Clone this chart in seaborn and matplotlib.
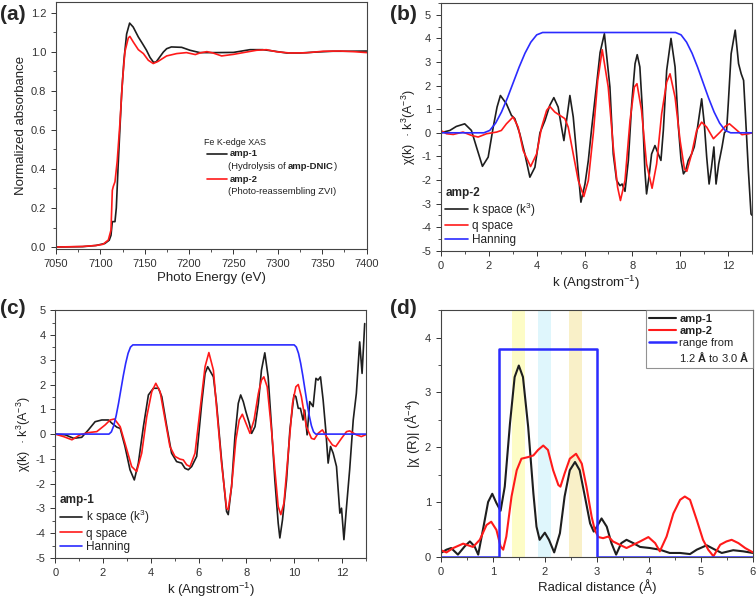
import numpy as np
import pandas as pd
import matplotlib
matplotlib.use("Agg")
import matplotlib.pyplot as plt
from matplotlib.ticker import MultipleLocator
from matplotlib.lines import Line2D
import seaborn as sns

# ---------------- data ----------------
# (a) Fe K-edge XANES
ea_black = [7050, 7080, 7095, 7105, 7110, 7112, 7113.5, 7116.5, 7118, 7120, 7122, 7124, 7126.6, 7129.6, 7133,
            7137, 7142.8, 7147.6, 7152, 7156, 7160, 7163, 7167, 7171, 7174.7, 7180, 7191.6, 7201, 7212, 7230,
            7250, 7268.6, 7283, 7295, 7310, 7325, 7343.6, 7362, 7381, 7400]
va_black = [0.0, 0.002, 0.008, 0.018, 0.035, 0.06, 0.13, 0.13, 0.2, 0.41, 0.6, 0.785, 0.956, 1.09, 1.146,
            1.126, 1.075, 1.04, 1.007, 0.97, 0.945, 0.948, 0.973, 0.998, 1.015, 1.024, 1.022, 1.007, 0.995, 0.995,
            0.996, 1.01, 1.01, 1.003, 0.993, 0.993, 0.998, 1.002, 1.002, 1.003]
ea_red = [7050, 7080, 7095, 7103, 7109, 7112, 7113.5, 7114.6, 7116.5, 7119, 7122, 7125, 7127.7, 7131.5, 7133.3,
          7137, 7142.8, 7148.5, 7154, 7159.6, 7165, 7174.7, 7186, 7197, 7207, 7212, 7220, 7227, 7236.6, 7250,
          7261, 7276, 7287, 7299, 7313.6, 7332, 7351, 7370, 7385, 7400]
va_red = [0.0, 0.003, 0.008, 0.014, 0.036, 0.087, 0.29, 0.31, 0.334, 0.44, 0.63, 0.853, 1.0, 1.07, 1.078,
          1.05, 1.01, 0.99, 0.956, 0.939, 0.95, 0.978, 0.99, 0.995, 0.985, 0.993, 1.0, 0.993, 0.978, 0.986,
          0.995, 1.007, 1.01, 0.999, 0.993, 0.994, 1.002, 1.003, 1.0, 0.995]

# (b) amp-2 chi(k)
kb_black = [0, 0.38, 0.65, 1.0, 1.28, 1.49, 1.74, 1.98, 2.19, 2.35, 2.49, 2.74, 2.95, 3.09, 3.30, 3.51, 3.72,
            3.93, 4.14, 4.35, 4.55, 4.72, 4.9, 5.04, 5.14, 5.25, 5.39, 5.53, 5.67, 5.85, 6.02, 6.16, 6.3, 6.5,
            6.65, 6.83, 7.06, 7.2, 7.34, 7.48, 7.57, 7.69, 7.83, 7.97, 8.11, 8.2, 8.31, 8.41, 8.52, 8.59, 8.69,
            8.8, 8.94, 9.08, 9.19, 9.29, 9.43, 9.61, 9.78, 9.92, 10.03, 10.13, 10.22, 10.33, 10.47, 10.58, 10.72,
            10.89, 11.0, 11.1, 11.2, 11.3, 11.4, 11.49, 11.6, 11.74, 11.84, 11.93, 12.0, 12.12, 12.29, 12.43,
            12.54, 12.64, 12.73, 12.84, 12.95, 13.0]
vb_black = [0, 0.1, 0.27, 0.38, 0.1, -0.6, -1.42, -1.03, 0.24, 1.09, 1.58, 1.23, 0.74, 0.6, -0.04, -0.9, -1.88,
            -1.46, 0.0, 0.52, 1.16, 1.49, 1.09, 0.24, -0.33, 0.52, 1.58, 0.67, -0.9, -2.94, -2.17, -1.17, 0.2, 2.0,
            3.4, 4.2, 1.94, -0.9, -2.02, -2.24, -2.17, -2.48, -1.17, 1.23, 2.93, 3.31, 2.79, 1.09, -1.6, -2.59, -1.88,
            -0.9, -0.54, -0.9, -1.17, 0.1, 2.65, 4.0, 2.79, 0.24, -1.17, -1.74, -1.6, -1.17, -0.9, -0.6, 0.24,
            1.44, 0.38, -1.03, -2.17, -1.46, -0.6, -2.17, -1.32, -0.6, 0.0, 0.1, 1.23, 3.35, 4.35, 2.93,
            2.5, 2.22, 0.52, -1.6, -3.44, -3.5]
kb_red = [0, 0.24, 0.52, 0.93, 1.28, 1.56, 1.91, 2.33, 2.53, 2.74, 3.02, 3.23, 3.44, 3.75, 4.0, 4.21, 4.42, 4.55,
          4.76, 4.97, 5.18, 5.32, 5.53, 5.74, 5.97, 6.16, 6.37, 6.55, 6.74, 6.99, 7.2, 7.38, 7.5, 7.69, 7.9, 8.08,
          8.19, 8.38, 8.59, 8.82, 9.01, 9.22, 9.43, 9.57, 9.78, 9.99, 10.17, 10.27, 10.47, 10.68, 10.89, 11.1,
          11.38, 11.66, 11.87, 12.05, 12.29, 12.57, 12.84, 13.0]
vb_red = [0.1, -0.04, -0.07, 0.03, -0.11, -0.18, -0.04, 0.03, 0.1, 0.38, 0.67, 0.24, -0.75, -1.43, -0.9, 0.24, 0.95,
          1.12, 0.88, 0.74, 0.6, 0.24, -0.9, -2.02, -2.7, -2.02, 0.0, 2.2, 3.52, 1.94, -0.6, -2.3, -2.87, -2.02,
          0.52, 1.94, 2.08, 0.95, -1.32, -2.35, -1.32, 0.81, 2.15, 2.5, 1.51, -0.33, -1.53, -1.63, -0.9, 0.1,
          0.45, 0.24, -0.25, 0.03, 0.27, 0.38, 0.17, -0.08, -0.04, 0.0]
kb_han = [0, 1.8, 2.045, 2.29, 2.535, 2.78, 3.025, 3.27, 3.515, 3.76, 4.005, 4.25, 9.8, 10.03, 10.26, 10.49,
          10.72, 10.95, 11.18, 11.41, 11.64, 11.87, 12.1, 13.0]
vb_han = [0, 0, 0.10, 0.41, 0.88, 1.47, 2.125, 2.78, 3.37, 3.84, 4.15, 4.25, 4.25, 4.15, 3.84, 3.37, 2.78, 2.125,
          1.47, 0.88, 0.41, 0.10, 0, 0]

# (c) amp-1 chi(k)
kc_black = [0, 0.42, 0.77, 1.11, 1.39, 1.67, 1.95, 2.23, 2.37, 2.58, 2.72, 2.92, 3.13, 3.31, 3.48, 3.69, 3.9,
            4.11, 4.32, 4.46, 4.67, 4.87, 5.08, 5.29, 5.43, 5.57, 5.71, 5.92, 6.13, 6.27, 6.38, 6.62, 6.75, 6.96,
            7.17, 7.24, 7.38, 7.52, 7.66, 7.76, 7.87, 7.98, 8.12, 8.22, 8.36, 8.5, 8.63, 8.77, 8.91, 9.05, 9.19,
            9.33, 9.4, 9.51, 9.68, 9.82, 9.99, 10.07, 10.17, 10.26, 10.37, 10.44, 10.54, 10.65, 10.79, 10.91,
            11.0, 11.1, 11.21, 11.32, 11.42, 11.52, 11.63, 11.77, 11.91, 11.98, 12.08, 12.19, 12.32, 12.47, 12.6,
            12.74, 12.84, 12.95]
vc_black = [0, -0.03, -0.17, -0.13, 0.17, 0.5, 0.57, 0.57, 0.44, 0.28, 0.23, -0.5, -1.44, -1.85, -1.17, 0.3, 1.58,
            1.85, 1.85, 1.51, 0.3, -0.77, -1.11, -1.17, -1.38, -1.44, -1.31, -0.9, 1.24, 2.45, 2.72, 2.31, 1.24,
            -1.04, -3.12, -3.25, -2.11, -0.1, 1.24, 1.58, 1.31, 0.9, 0.44, 0.03, 0.3, 1.24, 2.58, 3.28, 2.31, 0.3,
            -1.85, -3.59, -4.19, -3.46, -1.85, 0.17, 1.58, 1.51, 1.04, 1.04, 0.57, 0.97, -0.03, 1.31, 1.11, 2.25,
            2.18, 2.31, 1.38, 0.17, -1.17, -0.5, -0.77, -1.31, -3.19, -2.99, -4.26, -2.92, -1.44, 0.57, 1.64,
            3.72, 2.45, 4.46]
kc_red = [0, 0.35, 0.7, 1.04, 1.39, 1.74, 2.09, 2.3, 2.48, 2.72, 2.92, 3.2, 3.41, 3.62, 3.83, 4.04, 4.21, 4.39,
          4.6, 4.8, 5.01, 5.22, 5.36, 5.5, 5.64, 5.85, 6.06, 6.27, 6.43, 6.62, 6.75, 6.96, 7.17, 7.24, 7.38, 7.56,
          7.7, 7.83, 7.98, 8.15, 8.32, 8.5, 8.63, 8.73, 8.87, 9.05, 9.19, 9.33, 9.44, 9.57, 9.75, 9.93, 10.07,
          10.17, 10.3, 10.51, 10.72, 10.84, 11.0, 11.18, 11.35, 11.6, 11.74, 11.98, 12.19, 12.32, 12.6, 12.81, 12.98]
vc_red = [0, -0.1, -0.23, -0.03, 0.06, 0.1, 0.37, 0.57, 0.61, 0.3, -0.37, -1.31, -1.51, -0.77, 0.7, 1.71, 2.05,
          1.71, 0.57, -0.5, -0.9, -1.01, -1.04, -1.24, -1.31, -0.77, 0.97, 2.72, 3.29, 2.58, 1.1, -1.17, -2.99,
          -3.05, -2.11, -0.23, 0.57, 0.8, 0.44, 0.03, 0.57, 1.64, 2.18, 2.31, 1.91, 0.17, -1.44, -2.92, -3.25,
          -2.79, -0.77, 1.24, 1.91, 2.0, 1.51, 0.3, -0.17, -0.21, 0.03, 0.17, -0.1, -0.44, -0.5, -0.17, 0.1, 0.13,
          -0.03, -0.1, -0.03]
kc_han = [0, 2.25, 2.35, 2.45, 2.55, 2.65, 2.75, 2.85, 2.95, 3.05, 3.15, 3.25, 10.0, 10.09, 10.18, 10.27, 10.36,
          10.45, 10.54, 10.63, 10.72, 10.81, 10.9, 13.0]
vc_han = [0, 0, 0.09, 0.34, 0.74, 1.24, 1.8, 2.36, 2.86, 3.26, 3.51, 3.6, 3.6, 3.51, 3.26, 2.86, 2.36, 1.8, 1.24,
          0.74, 0.34, 0.09, 0, 0]

# (d) |chi(R)|
rd_black = [0, 0.11, 0.2, 0.33, 0.46, 0.56, 0.65, 0.72, 0.81, 0.91, 0.99, 1.07, 1.15, 1.23, 1.33, 1.42, 1.5, 1.58,
            1.68, 1.78, 1.84, 1.9, 2.0, 2.08, 2.18, 2.29, 2.38, 2.48, 2.58, 2.67, 2.77, 2.87, 2.94, 3.0, 3.09,
            3.19, 3.28, 3.37, 3.47, 3.57, 3.7, 3.83, 4.02, 4.21, 4.4, 4.6, 4.79, 4.92, 5.11, 5.27, 5.4, 5.62,
            5.81, 6.0]
vd_black = [0.07, 0.13, 0.16, 0.04, 0.19, 0.28, 0.19, 0.04, 0.49, 1.0, 1.15, 0.98, 0.84, 1.28, 2.43, 3.28, 3.49,
            3.28, 2.37, 1.16, 0.55, 0.31, 0.44, 0.31, 0.08, 0.43, 1.1, 1.58, 1.73, 1.58, 1.1, 0.61, 0.46, 0.55,
            0.7, 0.55, 0.25, 0.04, 0.25, 0.31, 0.25, 0.18, 0.16, 0.13, 0.07, 0.07, 0.05, 0.13, 0.21, 0.13, 0.07,
            0.12, 0.1, 0.07]
rd_red = [0, 0.11, 0.24, 0.43, 0.62, 0.75, 0.88, 0.97, 1.07, 1.15, 1.2, 1.26, 1.36, 1.46, 1.55, 1.68, 1.78, 1.87,
          1.97, 2.06, 2.16, 2.26, 2.3, 2.38, 2.48, 2.6, 2.71, 2.8, 2.9, 2.96, 3.03, 3.12, 3.22, 3.31, 3.44, 3.57,
          3.7, 3.83, 3.99, 4.12, 4.21, 4.34, 4.47, 4.6, 4.69, 4.79, 4.92, 5.04, 5.14, 5.24, 5.37, 5.49, 5.59,
          5.72, 5.85, 6.0]
vd_red = [0.12, 0.08, 0.16, 0.24, 0.18, 0.31, 0.58, 0.64, 0.49, 0.19, 0.13, 0.37, 1.1, 1.58, 1.79, 1.82, 1.85,
          1.95, 2.03, 1.95, 1.58, 1.31, 1.28, 1.52, 1.79, 1.88, 1.7, 1.28, 0.73, 0.49, 0.36, 0.34, 0.37, 0.28,
          0.22, 0.16, 0.22, 0.28, 0.36, 0.25, 0.1, 0.37, 0.79, 1.04, 1.1, 1.04, 0.67, 0.31, 0.13, 0.01, 0.22,
          0.28, 0.31, 0.25, 0.16, 0.08]
rd_win = [0, 1.12, 1.12, 3.0, 3.0, 6.0]
vd_win = [0, 0, 3.8, 3.8, 0, 0]
band_lo = [1.36, 1.86, 2.47]
band_hi = [1.62, 2.12, 2.72]
band_colors = ["#fdfcc6", "#dff6fc", "#f9f0c8"]

# ---------------- style ----------------
sns.set_style("ticks")
plt.rcParams["font.family"] = ["Liberation Sans", "DejaVu Sans"]
plt.rcParams["mathtext.fontset"] = "custom"
plt.rcParams["mathtext.rm"] = "Liberation Sans"
plt.rcParams["mathtext.bf"] = "Liberation Sans:bold"
plt.rcParams["axes.unicode_minus"] = False

BLACK = "#1e1e1e"
RED = "#ff1a1a"
BLUE = "#2b2bff"

fig = plt.figure(figsize=(7.56, 6.0), dpi=100)
ax_a = fig.add_axes([0.074, 0.585, 0.411, 0.412])
ax_b = fig.add_axes([0.583, 0.582, 0.412, 0.413])
ax_c = fig.add_axes([0.073, 0.070, 0.411, 0.413])
ax_d = fig.add_axes([0.583, 0.072, 0.413, 0.411])


def style_axis(ax):
    for s in ax.spines.values():
        s.set_linewidth(0.8)
        s.set_color("#444444")
    ax.tick_params(which="major", direction="out", length=3.5, width=0.7, labelsize=8,
                   colors="#333333", labelcolor="#333333")
    ax.tick_params(which="minor", direction="out", length=2, width=0.6, colors="#333333")


def line(ax, x, y, color, lw, label=None):
    sns.lineplot(x=x, y=y, ax=ax, color=color, lw=lw, estimator=None, sort=False,
                 label=label, legend=False)


# ---- (a) ----
line(ax_a, ea_black, va_black, BLACK, 1.2)
line(ax_a, ea_red, va_red, RED, 1.2)
ax_a.set_xlim(7050, 7400)
ax_a.set_ylim(-0.01, 1.255)
ax_a.xaxis.set_major_locator(MultipleLocator(50))
ax_a.xaxis.set_minor_locator(MultipleLocator(25))
ax_a.yaxis.set_major_locator(MultipleLocator(0.2))
ax_a.yaxis.set_minor_locator(MultipleLocator(0.1))
ax_a.yaxis.set_major_formatter(matplotlib.ticker.FormatStrFormatter("%.1f"))
ax_a.set_xlabel("Photo Energy (eV)", fontsize=9.5, color="#222222", labelpad=2)
ax_a.set_ylabel("Normalized absorbance", fontsize=9.5, color="#222222", labelpad=3)
style_axis(ax_a)

# manual legend for (a)
ta = ax_a.transAxes
FS_A = 6.8
ax_a.text(0.478, 0.43, "Fe K-edge XAS", transform=ta, fontsize=6.4, va="center", color="#222222")
ax_a.plot([0.486, 0.55], [0.385, 0.385], transform=ta, color=BLACK, lw=1.2)
ax_a.plot([0.486, 0.55], [0.283, 0.283], transform=ta, color=RED, lw=1.2)
ax_a.text(0.558, 0.385, "amp-1", transform=ta, fontsize=FS_A, fontweight="bold", va="center", color="#222222")
ax_a.text(0.558, 0.283, "amp-2", transform=ta, fontsize=FS_A, fontweight="bold", va="center", color="#222222")
t1 = ax_a.text(0.553, 0.333, "(Hydrolysis of ", transform=ta, fontsize=FS_A, va="center", color="#222222")
t2 = ax_a.text(0.553, 0.231, "(Photo-reassembling ZVI)", transform=ta, fontsize=FS_A, va="center",
               color="#222222")
fig.canvas.draw()
r = fig.canvas.get_renderer()
bb = t1.get_window_extent(r).transformed(ax_a.transAxes.inverted())
t3 = ax_a.text(bb.x1, 0.333, "amp-DNIC", transform=ta, fontsize=FS_A, fontweight="bold", va="center",
               color="#222222")
fig.canvas.draw()
bb3 = t3.get_window_extent(r).transformed(ax_a.transAxes.inverted())
ax_a.text(bb3.x1, 0.333, ")", transform=ta, fontsize=FS_A, va="center", color="#222222")


def chi_legend(ax, title):
    leg = ax.legend(loc="lower left", bbox_to_anchor=(0.0, 0.0), frameon=False, fontsize=8.5,
                    title=title, title_fontproperties={"weight": "bold", "size": 8.5},
                    handlelength=1.9, handletextpad=0.35, labelspacing=0.15, borderaxespad=0.2,
                    borderpad=0.2)
    leg._legend_box.align = "left"
    for t in leg.get_texts():
        t.set_color("#222222")
    return leg


# ---- (b) ----
line(ax_b, kb_black, vb_black, BLACK, 1.2, "k space (k$^3$)")
line(ax_b, kb_red, vb_red, RED, 1.2, "q space")
line(ax_b, kb_han, vb_han, BLUE, 1.2, "Hanning")
ax_b.set_xlim(0, 13)
ax_b.set_ylim(-5, 5.5)
ax_b.xaxis.set_major_locator(MultipleLocator(2))
ax_b.xaxis.set_minor_locator(MultipleLocator(1))
ax_b.yaxis.set_major_locator(MultipleLocator(1))
ax_b.yaxis.set_minor_locator(MultipleLocator(0.5))
ax_b.set_xlabel("k (Angstrom$^{-1}$)", fontsize=9.5, color="#222222", labelpad=2)
ax_b.set_ylabel("χ(k)  · k$^3$(A$^{-3}$)", fontsize=9, color="#222222", labelpad=2)
style_axis(ax_b)
chi_legend(ax_b, "amp-2")

# ---- (c) ----
line(ax_c, kc_black, vc_black, BLACK, 1.2, "k space (k$^3$)")
line(ax_c, kc_red, vc_red, RED, 1.2, "q space")
line(ax_c, kc_han, vc_han, BLUE, 1.2, "Hanning")
ax_c.set_xlim(0, 13)
ax_c.set_ylim(-5, 5)
ax_c.xaxis.set_major_locator(MultipleLocator(2))
ax_c.xaxis.set_minor_locator(MultipleLocator(1))
ax_c.yaxis.set_major_locator(MultipleLocator(1))
ax_c.yaxis.set_minor_locator(MultipleLocator(0.5))
ax_c.set_xlabel("k (Angstrom$^{-1}$)", fontsize=9.5, color="#222222", labelpad=2)
ax_c.set_ylabel("χ(k)  · k$^3$(A$^{-3}$)", fontsize=9, color="#222222", labelpad=2)
style_axis(ax_c)
chi_legend(ax_c, "amp-1")

# ---- (d) ----
for lo, hi, c in zip(band_lo, band_hi, band_colors):
    ax_d.axvspan(lo, hi, color=c, lw=0, zorder=0)
line(ax_d, rd_black, vd_black, BLACK, 1.5, "amp-1")
line(ax_d, rd_red, vd_red, RED, 1.5, "amp-2")
line(ax_d, rd_win, vd_win, BLUE, 1.8, "range from")
ax_d.set_xlim(0, 6)
ax_d.set_ylim(0, 4.5)
ax_d.xaxis.set_major_locator(MultipleLocator(1))
ax_d.xaxis.set_minor_locator(MultipleLocator(0.5))
ax_d.yaxis.set_major_locator(MultipleLocator(1))
ax_d.yaxis.set_minor_locator(MultipleLocator(0.5))
ax_d.set_xlabel("Radical distance (Å)", fontsize=9.5, color="#222222", labelpad=2)
ax_d.set_ylabel("|χ (R)| (Å$^{-4}$)", fontsize=9.5, color="#222222", labelpad=2)
style_axis(ax_d)
h, l = ax_d.get_legend_handles_labels()
h.append(Line2D([], [], color="none"))
l.append("1.2 $\\mathbf{Å}$ to 3.0 $\\mathbf{Å}$")
leg = ax_d.legend(h, l, loc="upper right", bbox_to_anchor=(1.0, 1.0), fontsize=8, frameon=True,
                  fancybox=False, handlelength=2.4, handletextpad=0.3, labelspacing=0.2,
                  borderaxespad=0.0, borderpad=0.3)
leg.get_frame().set_edgecolor("#777777")
leg.get_frame().set_linewidth(0.8)
for i, t in enumerate(leg.get_texts()):
    t.set_color("#222222")
    if i < 2:
        t.set_fontweight("bold")

# panel labels
fig.text(0.0, 0.975, "(a)", fontsize=15, fontweight="bold", va="center", ha="left")
fig.text(0.516, 0.975, "(b)", fontsize=15, fontweight="bold", va="center", ha="left")
fig.text(0.0, 0.485, "(c)", fontsize=15, fontweight="bold", va="center", ha="left")
fig.text(0.516, 0.485, "(d)", fontsize=15, fontweight="bold", va="center", ha="left")

fig.savefig("out.png", dpi=100, facecolor="white")
